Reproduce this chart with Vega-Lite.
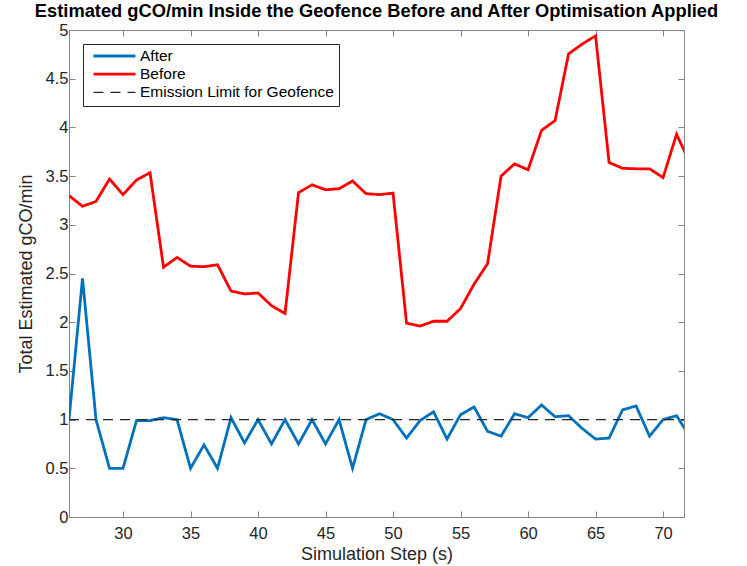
{
  "$schema": "https://vega.github.io/schema/vega-lite/v6.json",
  "width": 615,
  "height": 487,
  "autosize": "none",
  "padding": {"left": 69, "top": 30, "right": 63, "bottom": 49},
  "background": "white",
  "title": {
    "text": "Estimated gCO/min Inside the Geofence Before and After Optimisation Applied",
    "font": "Liberation Sans",
    "fontSize": 18.3,
    "fontWeight": "bold",
    "color": "black",
    "anchor": "middle",
    "baseline": "alphabetic",
    "offset": -13
  },
  "config": {
    "view": {"stroke": "#858585", "strokeWidth": 1},
    "axis": {
      "grid": false,
      "domain": false,
      "tickColor": "#858585",
      "tickSize": -6,
      "labelFont": "Liberation Sans",
      "labelFontSize": 16.5,
      "labelColor": "#262626",
      "titleFont": "Liberation Sans",
      "titleFontSize": 18,
      "titleFontWeight": "normal",
      "titleColor": "#262626"
    },
    "legend": {
      "orient": "none",
      "legendX": 14,
      "legendY": 14,
      "symbolType": "stroke",
      "symbolSize": 1764,
      "clipHeight": 14,
      "labelFont": "Liberation Sans",
      "labelFontSize": 15.5,
      "labelColor": "black",
      "labelLimit": 400,
      "padding": 5,
      "symbolOffset": 4,
      "rowPadding": 2.2,
      "labelOffset": 3,
      "strokeColor": "#262626",
      "fillColor": "white"
    }
  },
  "data": {
    "values": [
      {"step": 26, "value": 1.0, "series": "After"},
      {"step": 27, "value": 2.45, "series": "After"},
      {"step": 28, "value": 1.0, "series": "After"},
      {"step": 29, "value": 0.5, "series": "After"},
      {"step": 30, "value": 0.5, "series": "After"},
      {"step": 31, "value": 0.99, "series": "After"},
      {"step": 32, "value": 0.99, "series": "After"},
      {"step": 33, "value": 1.02, "series": "After"},
      {"step": 34, "value": 1.0, "series": "After"},
      {"step": 35, "value": 0.5, "series": "After"},
      {"step": 36, "value": 0.74, "series": "After"},
      {"step": 37, "value": 0.5, "series": "After"},
      {"step": 38, "value": 1.02, "series": "After"},
      {"step": 39, "value": 0.76, "series": "After"},
      {"step": 40, "value": 1.0, "series": "After"},
      {"step": 41, "value": 0.75, "series": "After"},
      {"step": 42, "value": 1.0, "series": "After"},
      {"step": 43, "value": 0.75, "series": "After"},
      {"step": 44, "value": 1.0, "series": "After"},
      {"step": 45, "value": 0.75, "series": "After"},
      {"step": 46, "value": 1.0, "series": "After"},
      {"step": 47, "value": 0.5, "series": "After"},
      {"step": 48, "value": 1.0, "series": "After"},
      {"step": 49, "value": 1.06, "series": "After"},
      {"step": 50, "value": 1.0, "series": "After"},
      {"step": 51, "value": 0.81, "series": "After"},
      {"step": 52, "value": 0.99, "series": "After"},
      {"step": 53, "value": 1.08, "series": "After"},
      {"step": 54, "value": 0.8, "series": "After"},
      {"step": 55, "value": 1.05, "series": "After"},
      {"step": 56, "value": 1.13, "series": "After"},
      {"step": 57, "value": 0.88, "series": "After"},
      {"step": 58, "value": 0.83, "series": "After"},
      {"step": 59, "value": 1.06, "series": "After"},
      {"step": 60, "value": 1.02, "series": "After"},
      {"step": 61, "value": 1.15, "series": "After"},
      {"step": 62, "value": 1.03, "series": "After"},
      {"step": 63, "value": 1.04, "series": "After"},
      {"step": 64, "value": 0.91, "series": "After"},
      {"step": 65, "value": 0.8, "series": "After"},
      {"step": 66, "value": 0.81, "series": "After"},
      {"step": 67, "value": 1.1, "series": "After"},
      {"step": 68, "value": 1.14, "series": "After"},
      {"step": 69, "value": 0.83, "series": "After"},
      {"step": 70, "value": 1.0, "series": "After"},
      {"step": 71, "value": 1.04, "series": "After"},
      {"step": 72, "value": 0.82, "series": "After"},
      {"step": 26, "value": 3.3, "series": "Before"},
      {"step": 27, "value": 3.19, "series": "Before"},
      {"step": 28, "value": 3.24, "series": "Before"},
      {"step": 29, "value": 3.47, "series": "Before"},
      {"step": 30, "value": 3.31, "series": "Before"},
      {"step": 31, "value": 3.46, "series": "Before"},
      {"step": 32, "value": 3.535, "series": "Before"},
      {"step": 33, "value": 2.565, "series": "Before"},
      {"step": 34, "value": 2.665, "series": "Before"},
      {"step": 35, "value": 2.575, "series": "Before"},
      {"step": 36, "value": 2.57, "series": "Before"},
      {"step": 37, "value": 2.59, "series": "Before"},
      {"step": 38, "value": 2.32, "series": "Before"},
      {"step": 39, "value": 2.29, "series": "Before"},
      {"step": 40, "value": 2.3, "series": "Before"},
      {"step": 41, "value": 2.17, "series": "Before"},
      {"step": 42, "value": 2.09, "series": "Before"},
      {"step": 43, "value": 3.33, "series": "Before"},
      {"step": 44, "value": 3.41, "series": "Before"},
      {"step": 45, "value": 3.36, "series": "Before"},
      {"step": 46, "value": 3.37, "series": "Before"},
      {"step": 47, "value": 3.45, "series": "Before"},
      {"step": 48, "value": 3.32, "series": "Before"},
      {"step": 49, "value": 3.31, "series": "Before"},
      {"step": 50, "value": 3.325, "series": "Before"},
      {"step": 51, "value": 1.99, "series": "Before"},
      {"step": 52, "value": 1.96, "series": "Before"},
      {"step": 53, "value": 2.01, "series": "Before"},
      {"step": 54, "value": 2.01, "series": "Before"},
      {"step": 55, "value": 2.14, "series": "Before"},
      {"step": 56, "value": 2.39, "series": "Before"},
      {"step": 57, "value": 2.6, "series": "Before"},
      {"step": 58, "value": 3.5, "series": "Before"},
      {"step": 59, "value": 3.625, "series": "Before"},
      {"step": 60, "value": 3.565, "series": "Before"},
      {"step": 61, "value": 3.97, "series": "Before"},
      {"step": 62, "value": 4.07, "series": "Before"},
      {"step": 63, "value": 4.755, "series": "Before"},
      {"step": 64, "value": 4.855, "series": "Before"},
      {"step": 65, "value": 4.94, "series": "Before"},
      {"step": 66, "value": 3.64, "series": "Before"},
      {"step": 67, "value": 3.58, "series": "Before"},
      {"step": 68, "value": 3.575, "series": "Before"},
      {"step": 69, "value": 3.575, "series": "Before"},
      {"step": 70, "value": 3.485, "series": "Before"},
      {"step": 71, "value": 3.93, "series": "Before"},
      {"step": 72, "value": 3.63, "series": "Before"},
      {"step": 26, "value": 1.0, "series": "Emission Limit for Geofence"},
      {"step": 72, "value": 1.0, "series": "Emission Limit for Geofence"}
    ]
  },
  "layer": [
    {
      "mark": {"type": "line", "clip": true},
      "encoding": {
        "x": {
          "field": "step",
          "type": "quantitative",
          "scale": {"domain": [26, 71.55], "nice": false, "zero": false},
          "axis": {
            "title": "Simulation Step (s)",
            "values": [30, 35, 40, 45, 50, 55, 60, 65, 70],
            "labelPadding": 14,
            "titlePadding": 4
          }
        },
        "y": {
          "field": "value",
          "type": "quantitative",
          "scale": {"domain": [0, 5], "nice": false},
          "axis": {
            "title": "Total Estimated gCO/min",
            "values": [0, 0.5, 1, 1.5, 2, 2.5, 3, 3.5, 4, 4.5, 5],
            "format": "~g",
            "labelPadding": 7,
            "titlePadding": 10
          }
        },
        "color": {
          "field": "series",
          "type": "nominal",
          "scale": {
            "domain": ["After", "Before", "Emission Limit for Geofence"],
            "range": ["#0072BD", "#FF0000", "#262626"]
          },
          "legend": {"title": null}
        },
        "strokeDash": {
          "field": "series",
          "type": "nominal",
          "scale": {
            "domain": ["After", "Before", "Emission Limit for Geofence"],
            "range": [[1, 0], [1, 0], [10, 7]]
          },
          "legend": {"title": null}
        },
        "strokeWidth": {
          "field": "series",
          "type": "nominal",
          "scale": {
            "type": "ordinal",
            "domain": ["After", "Before", "Emission Limit for Geofence"],
            "range": [2.8, 2.8, 1.1]
          },
          "legend": {"title": null}
        }
      }
    },
    {
      "mark": {"type": "line", "strokeOpacity": 0, "clip": true},
      "encoding": {
        "x": {
          "field": "step",
          "type": "quantitative",
          "axis": {"orient": "top", "labels": false, "title": null, "values": [30, 35, 40, 45, 50, 55, 60, 65, 70]}
        },
        "y": {
          "field": "value",
          "type": "quantitative",
          "axis": {"orient": "right", "labels": false, "title": null, "values": [0, 0.5, 1, 1.5, 2, 2.5, 3, 3.5, 4, 4.5, 5]}
        },
        "detail": {"field": "series"}
      }
    }
  ],
  "resolve": {"axis": {"x": "independent", "y": "independent"}}
}
